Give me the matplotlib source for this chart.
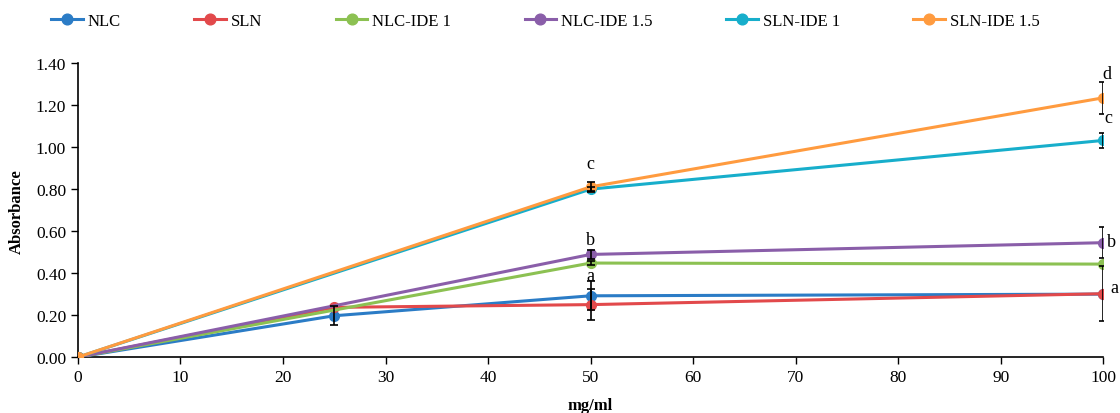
import numpy as np
import matplotlib
matplotlib.use("Agg")
import matplotlib.pyplot as plt

plt.rcParams["font.family"] = ["Liberation Serif", "DejaVu Serif"]

# series data (x in mg/ml, absorbance values, error half-widths)
names = ["NLC", "SLN", "NLC-IDE 1", "NLC-IDE 1.5", "SLN-IDE 1", "SLN-IDE 1.5"]
colors = ["#2b7cc6", "#e2494b", "#8cc152", "#8a5ea9", "#17aecb", "#ff9b3f"]

x_nlc = [0, 25, 50, 100]
y_nlc = [0.0, 0.197, 0.292, 0.300]
e_nlc = [0.0, 0.045, 0.07, 0.0]

x_sln = [0, 25, 50, 100]
y_sln = [0.0, 0.237, 0.250, 0.302]
e_sln = [0.0, 0.0, 0.075, 0.13]

x_nide1 = [0, 50, 100]
y_nide1 = [0.0, 0.448, 0.443]
e_nide1 = [0.0, 0.01, 0.0]

x_nide15 = [0, 50, 100]
y_nide15 = [0.0, 0.489, 0.545]
e_nide15 = [0.0, 0.02, 0.075]

x_side1 = [0, 50, 100]
y_side1 = [0.0, 0.800, 1.032]
e_side1 = [0.0, 0.01, 0.035]

x_side15 = [0, 50, 100]
y_side15 = [0.0, 0.811, 1.235]
e_side15 = [0.0, 0.025, 0.075]

xs = [x_nlc, x_sln, x_nide1, x_nide15, x_side1, x_side15]
ys = [y_nlc, y_sln, y_nide1, y_nide15, y_side1, y_side15]
es = [e_nlc, e_sln, e_nide1, e_nide15, e_side1, e_side15]

# significance letters
letters = ["c", "b", "a", "d", "c", "b", "a"]
letter_x = [50, 50, 50, 100.4, 100.5, 100.4, 100.7]
letter_y = [0.92, 0.56, 0.39, 1.35, 1.14, 0.55, 0.33]
letter_ha = ["center", "center", "center", "center", "center", "left", "left"]

fig = plt.figure(figsize=(11.2, 4.14), dpi=100)
ax = fig.add_axes([0.0696, 0.135, 0.9154, 0.71])

handles = []
for name, c, x, y, e in zip(names, colors, xs, ys, es):
    h, = ax.plot(x, y, color=c, lw=2.2, marker="o", ms=7, label=name, zorder=3)
    handles.append(h)
    e = np.array(e)
    m = e > 0
    ax.errorbar(np.array(x)[m], np.array(y)[m], yerr=e[m], fmt="none",
                ecolor="black", elinewidth=1.2, capsize=3, capthick=1.2, zorder=4)

for t, lx, ly, ha in zip(letters, letter_x, letter_y, letter_ha):
    ax.text(lx, ly, t, fontsize=13, ha=ha, va="center")

ax.set_xlim(0, 100)
ax.set_ylim(0, 1.4)
ax.set_xticks(np.arange(0, 101, 10))
ax.set_yticks(np.arange(0, 1.41, 0.2))
ax.set_yticklabels([f"{v:.2f}" for v in np.arange(0, 1.41, 0.2)])
ax.tick_params(labelsize=12.5, direction="out", length=5, width=1)
for s in ["top", "right"]:
    ax.spines[s].set_visible(False)
for s in ["left", "bottom"]:
    ax.spines[s].set_linewidth(1.2)

ax.set_xlabel("mg/ml", fontsize=12, fontweight="bold", labelpad=9)
ax.set_ylabel("Absorbance", fontsize=12, fontweight="bold", labelpad=8)

fig.legend(handles=handles, loc="upper center", ncol=6, frameon=False,
           bbox_to_anchor=(0.487, 1.003), fontsize=12, handlelength=1.9,
           columnspacing=4.4, handletextpad=0.3, markerscale=1.1)

fig.savefig("out.png", dpi=100)
